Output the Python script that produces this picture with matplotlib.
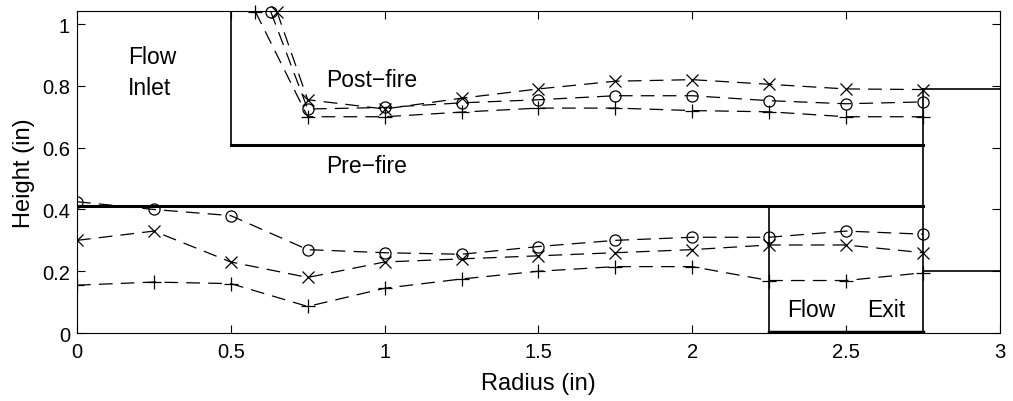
import numpy as np
import matplotlib.pyplot as plt

plt.rcParams['font.family'] = ['Liberation Sans', 'DejaVu Sans']

# lower (pre-fire) measurements
r_low = [0, 0.25, 0.5, 0.75, 1.0, 1.25, 1.5, 1.75, 2.0, 2.25, 2.5, 2.75]
h_low_o = [0.425, 0.40, 0.38, 0.27, 0.26, 0.255, 0.28, 0.30, 0.31, 0.31, 0.33, 0.32]
h_low_x = [0.30, 0.33, 0.23, 0.18, 0.23, 0.24, 0.25, 0.26, 0.27, 0.285, 0.285, 0.26]
h_low_p = [0.155, 0.165, 0.16, 0.086, 0.145, 0.175, 0.20, 0.215, 0.215, 0.17, 0.17, 0.195]

# upper (post-fire) measurements
r_up_o = [0.63, 0.75, 1.0, 1.25, 1.5, 1.75, 2.0, 2.25, 2.5, 2.75]
h_up_o = [1.04, 0.725, 0.73, 0.745, 0.755, 0.768, 0.768, 0.752, 0.742, 0.748]
r_up_x = [0.65, 0.75, 1.0, 1.25, 1.5, 1.75, 2.0, 2.25, 2.5, 2.75]
h_up_x = [1.04, 0.755, 0.725, 0.76, 0.79, 0.815, 0.82, 0.805, 0.79, 0.788]
r_up_p = [0.58, 0.75, 1.0, 1.25, 1.5, 1.75, 2.0, 2.25, 2.5, 2.75]
h_up_p = [1.04, 0.70, 0.70, 0.715, 0.728, 0.728, 0.72, 0.716, 0.70, 0.70]

fig = plt.figure(figsize=(10.13, 4.02), dpi=100)
ax = fig.add_axes([0.076, 0.169, 0.911, 0.801])

# geometry of the channel
ax.plot([0.5, 0.5], [0.61, 1.1], color='k', lw=1.2)
ax.plot([0.5, 2.75], [0.61, 0.61], color='k', lw=2.2)
ax.plot([0, 2.75], [0.41, 0.41], color='k', lw=2.2)
ax.plot([2.75, 2.75], [0, 0.79], color='k', lw=1.2)
ax.plot([2.75, 3], [0.79, 0.79], color='k', lw=1.2)
ax.plot([2.75, 3], [0.2, 0.2], color='k', lw=1.2)
ax.plot([2.25, 2.25], [0, 0.41], color='k', lw=1.2)
ax.plot([2.25, 2.75], [0.003, 0.003], color='k', lw=2.5)

ms = 8
kw = dict(color='k', ls='--', lw=0.9, mfc='none', mew=0.9, dashes=(11, 6.5))
ax.plot(r_low, h_low_o, marker='o', ms=ms, **kw)
ax.plot(r_low, h_low_x, marker='x', ms=ms, **kw)
ax.plot(r_low, h_low_p, marker='+', ms=ms + 2, **kw)
ax.plot(r_up_o, h_up_o, marker='o', ms=ms, clip_on=False, **kw)
ax.plot(r_up_x, h_up_x, marker='x', ms=ms, clip_on=False, **kw)
ax.plot(r_up_p, h_up_p, marker='+', ms=ms + 2, clip_on=False, **kw)

fs = 16.5
ax.text(0.165, 0.895, 'Flow', fontsize=fs, va='center')
ax.text(0.165, 0.795, 'Inlet', fontsize=fs, va='center')
ax.text(0.81, 0.82, 'Post\u2212fire', fontsize=fs, va='center')
ax.text(0.81, 0.543, 'Pre\u2212fire', fontsize=fs, va='center')
ax.text(2.31, 0.075, 'Flow', fontsize=fs, va='center')
ax.text(2.57, 0.075, 'Exit', fontsize=fs, va='center')

ax.set_xlim(0, 3)
ax.set_ylim(0, 1.042)
ax.set_xticks(np.arange(0, 3.01, 0.5))
ax.set_xticklabels(['0', '0.5', '1', '1.5', '2', '2.5', '3'])
ax.set_yticks(np.arange(0, 1.01, 0.2))
ax.set_yticklabels(['0', '0.2', '0.4', '0.6', '0.8', '1'])
ax.tick_params(direction='in', top=True, right=True, labelsize=14.5, length=6)
ax.tick_params(axis='x', pad=6.5)
ax.tick_params(axis='y', pad=5)
ax.set_xlabel('Radius (in)', fontsize=17, labelpad=8)
ax.set_ylabel('Height (in)', fontsize=17, labelpad=5)

fig.savefig('out.png', dpi=100)
